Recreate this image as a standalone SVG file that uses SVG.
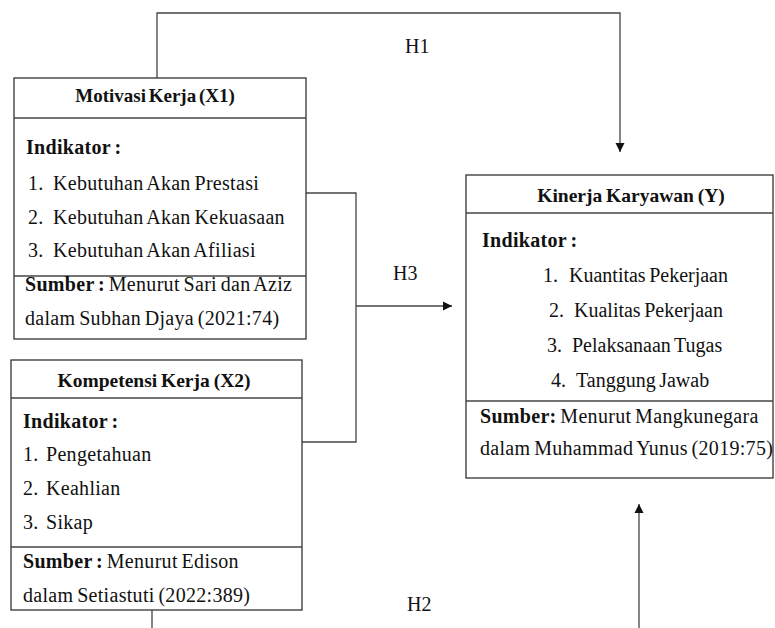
<svg xmlns="http://www.w3.org/2000/svg" width="775" height="628" viewBox="0 0 775 628">
<style>
text{font-family:'Liberation Serif','Times New Roman',serif;font-size:20px;fill:#111;letter-spacing:0.3px;word-spacing:-1.5px}
.b{font-weight:bold}
.t{font-weight:bold;font-size:19.5px;letter-spacing:0;word-spacing:-1px}
.h{letter-spacing:0;word-spacing:0}
.k{letter-spacing:0}
.box{fill:#fff;stroke:#333;stroke-width:1.3}
.div{stroke:#444;stroke-width:1.3}
.con{fill:none;stroke:#444;stroke-width:1.3}
</style>
<defs>
<marker id="arr" markerUnits="userSpaceOnUse" markerWidth="10" markerHeight="10" refX="9" refY="5" orient="auto">
<path d="M0,0.5 L9,5 L0,9.5 Z" fill="#111"/>
</marker>
</defs>
<rect width="775" height="628" fill="#fff"/>
<g id="connectors">
<path class="con" d="M157,78 V13 H620 V152" marker-end="url(#arr)"/>
<path class="con" d="M306,193 H356 V442 H302"/>
<path class="con" d="M356,306 H452" marker-end="url(#arr)"/>
<path class="con" d="M639,628 V504" marker-end="url(#arr)"/>
<path class="con" d="M152,610 V628"/>
<text class="h" x="405" y="53">H1</text>
<text class="h" x="393" y="280">H3</text>
<text class="h" x="407" y="611">H2</text>
</g>
<g id="motivasi">
<rect class="box" x="14" y="78" width="292" height="261"/>
<line class="div" x1="14" y1="118" x2="306" y2="118"/>
<line class="div" x1="14" y1="276" x2="306" y2="276"/>
<text class="t" x="155" y="102" text-anchor="middle" style="font-size:19px;word-spacing:-2px">Motivasi Kerja (X1)</text>
<text class="b" x="26" y="154">Indikator :</text>
<text x="28" y="190">1.<tspan x="53">Kebutuhan Akan Prestasi</tspan></text>
<text x="28" y="224">2.<tspan x="53">Kebutuhan Akan Kekuasaan</tspan></text>
<text x="28" y="257">3.<tspan x="53">Kebutuhan Akan Afiliasi</tspan></text>
<text x="25" y="291"><tspan class="b">Sumber :</tspan> Menurut Sari dan Aziz</text>
<text x="25" y="325">dalam Subhan Djaya (2021:74)</text>
</g>
<g id="kompetensi">
<rect class="box" x="11" y="360" width="291" height="250"/>
<line class="div" x1="11" y1="398" x2="302" y2="398"/>
<line class="div" x1="11" y1="547" x2="302" y2="547"/>
<text class="t" x="154" y="387" text-anchor="middle">Kompetensi Kerja (X2)</text>
<text class="b" x="23" y="428">Indikator :</text>
<text x="23" y="461">1.<tspan x="46">Pengetahuan</tspan></text>
<text x="23" y="495">2.<tspan x="46">Keahlian</tspan></text>
<text x="23" y="529">3.<tspan x="46">Sikap</tspan></text>
<text x="23" y="568"><tspan class="b">Sumber :</tspan> Menurut Edison</text>
<text x="23" y="602">dalam Setiastuti (2022:389)</text>
</g>
<g id="kinerja">
<rect class="box" x="466" y="175" width="307" height="303"/>
<line class="div" x1="466" y1="213" x2="773" y2="213"/>
<line class="div" x1="466" y1="401" x2="773" y2="401"/>
<text class="t" x="631" y="202" text-anchor="middle">Kinerja Karyawan (Y)</text>
<text class="b" x="482" y="247">Indikator :</text>
<text class="k" x="543" y="282">1.<tspan x="569">Kuantitas Pekerjaan</tspan></text>
<text class="k" x="549" y="317">2.<tspan x="574">Kualitas Pekerjaan</tspan></text>
<text class="k" x="547" y="352">3.<tspan x="572">Pelaksanaan Tugas</tspan></text>
<text class="k" x="551" y="387">4.<tspan x="576">Tanggung Jawab</tspan></text>
<text x="480" y="423"><tspan class="b">Sumber:</tspan> Menurut Mangkunegara</text>
<text x="480" y="455">dalam Muhammad Yunus (2019:75)</text>
</g>
</svg>
